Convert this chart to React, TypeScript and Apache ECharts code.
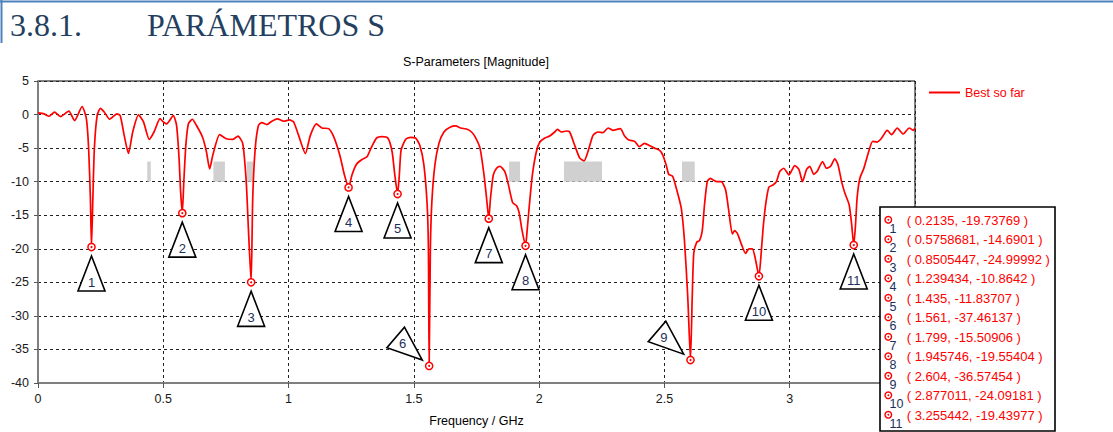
import React, { useEffect, useRef } from 'react';
import * as echarts from 'echarts';

// ---------- data ----------
const freqGHz = [
  0.0, 0.024, 0.044, 0.066, 0.09, 0.123, 0.146, 0.176, 0.193, 0.202, 0.209, 0.2135, 0.219, 0.225, 0.236,
  0.249, 0.265, 0.286, 0.315, 0.328, 0.344, 0.361, 0.378, 0.401, 0.421, 0.444, 0.463, 0.487, 0.5, 0.513,
  0.54, 0.553, 0.563, 0.569, 0.5758681, 0.582, 0.59, 0.6, 0.616, 0.632, 0.656, 0.672, 0.685, 0.698, 0.725,
  0.751, 0.778, 0.798, 0.817, 0.831, 0.84, 0.8505447, 0.857, 0.867, 0.88, 0.893, 0.913, 0.933, 0.956, 0.98,
  1.004, 1.02, 1.04, 1.067, 1.087, 1.111, 1.133, 1.16, 1.18, 1.204, 1.223, 1.239434, 1.253, 1.271, 1.293,
  1.313, 1.329, 1.351, 1.373, 1.396, 1.413, 1.424, 1.435, 1.442, 1.449, 1.467, 1.487, 1.507, 1.524, 1.54,
  1.553, 1.558, 1.561, 1.566, 1.572, 1.584, 1.6, 1.62, 1.644, 1.667, 1.687, 1.713, 1.73, 1.744, 1.764,
  1.78, 1.79, 1.799, 1.806, 1.817, 1.83, 1.843, 1.863, 1.877, 1.894, 1.91, 1.92, 1.932, 1.945746, 1.952,
  1.96, 1.973, 1.989, 2.003, 2.023, 2.042, 2.062, 2.073, 2.089, 2.109, 2.122, 2.142, 2.162, 2.179, 2.195,
  2.215, 2.235, 2.255, 2.275, 2.294, 2.324, 2.341, 2.358, 2.381, 2.4, 2.42, 2.44, 2.46, 2.48, 2.493,
  2.507, 2.517, 2.533, 2.549, 2.567, 2.58, 2.593, 2.604, 2.611, 2.617, 2.629, 2.64, 2.651, 2.66, 2.671,
  2.683, 2.693, 2.709, 2.727, 2.744, 2.757, 2.771, 2.78, 2.791, 2.807, 2.824, 2.837, 2.851, 2.864, 2.877011,
  2.884, 2.893, 2.904, 2.917, 2.933, 2.947, 2.96, 2.976, 2.997, 3.02, 3.037, 3.051, 3.067, 3.08, 3.096,
  3.109, 3.131, 3.147, 3.163, 3.18, 3.193, 3.207, 3.22, 3.237, 3.247, 3.255442, 3.262, 3.269, 3.28, 3.296,
  3.313, 3.331, 3.349, 3.367, 3.389, 3.407, 3.429, 3.453, 3.477, 3.493, 3.5,
];
const magnitudeDb = [
  0.25, 0.1, -0.25, 0.35, -0.3, 0.5, -0.9, 1.2, -0.6, -5, -12.4, -19.73769, -12.4, -5, -0.15,
  0.93, 0.35, -0.7, 0.1, -0.15, -3.1, -5.8, -2.6, -0.05, -1.1, -3.7, -2.6, -0.6, -1.1, -1.4,
  -0.15, -1.6, -6.5, -11.4, -14.6901, -10, -4.6, -1.4, -0.7, -1.6, -3.3, -5.5, -8.1, -6, -3,
  -3.6, -3.7, -3.2, -4.3, -10, -17.3, -24.99992, -12.4, -5, -1.6, -1.2, -1.5, -1.0, -0.65, -1.0,
  -0.8, -1.1, -3.1, -5.8, -3.1, -1.4, -2.0, -2.1, -3.3, -6, -9, -10.8642, -9, -7.4, -6.7,
  -6.3, -5, -3.5, -3.3, -3.5, -5.5, -9, -11.83707, -9, -5.3, -3.7, -3.4, -3.5, -4.6, -7.5,
  -13.4, -19.8, -37.46137, -19.8, -12.9, -7.5, -4.3, -2.6, -1.9, -1.7, -2.0, -2.2, -2.6, -3.3, -5,
  -9, -12.4, -15.50906, -12.4, -9, -8, -7.7, -8.5, -10.4, -13.1, -13.6, -14.6, -17.3, -19.55404, -17.3,
  -13.9, -9, -5.5, -4.1, -3.5, -3.2, -2.6, -2.2, -2.6, -2.45, -2.6, -4.6, -6.5, -6.9, -5.5,
  -3.1, -2.6, -2.7, -2.0, -2.35, -2.1, -3.2, -3.8, -4.0, -4.8, -4.3, -4.6, -5, -5.3, -6,
  -7.5, -8.9, -9.2, -11.2, -13.9, -18.8, -27.1, -36.57454, -27.1, -20.7, -19, -18.8, -17.3, -13.4, -10,
  -9.5, -9.7, -10, -10, -11.2, -14.4, -17.8, -17.3, -17.7, -19.3, -20.7, -20, -20, -21.7, -24.09181,
  -21.7, -17.3, -13.4, -10.8, -10.5, -10, -8.5, -8, -9, -7.6, -8.2, -10, -8.2, -7.7, -8.9,
  -8.5, -7, -8, -7.7, -6.6, -7.5, -10, -11.7, -13.4, -16.3, -19.43977, -16.8, -12.4, -9.5, -8,
  -5.8, -4, -4.1, -3.5, -2.35, -3, -2, -2.9, -2, -2.35, -2,
];

const markerFreq = [0.2135, 0.5758681, 0.8505447, 1.239434, 1.435, 1.561, 1.799, 1.945746, 2.604, 2.877011, 3.255442];
const markerMag = [-19.73769, -14.6901, -24.99992, -10.8642, -11.83707, -37.46137, -15.50906, -19.55404, -36.57454, -24.09181, -19.43977];
const markerLabels = ['1', '2', '3', '4', '5', '6', '7', '8', '9', '10', '11'];

const bandStart = [0.436, 0.7, 0.833, 1.88, 2.099, 2.57];
const bandEnd = [0.45, 0.746, 0.859, 1.924, 2.251, 2.621];
const bandTop = -7;
const bandBottom = -10;

const seriesName = 'Best so far';
const chartTitle = 'S-Parameters [Magnitude]';
const xAxisName = 'Frequency / GHz';
const headingNumber = '3.8.1.';
const headingText = 'PARÁMETROS S';

// ---------- component ----------
export default function App() {
  const ref = useRef<HTMLDivElement>(null);

  useEffect(() => {
    if (!ref.current) return;
    const chart = echarts.init(ref.current, null, { renderer: 'svg' });

    const FONT = 'Liberation Sans';
    const RED = '#ff0000';
    const NAVY = '#1c2f5a';
    const ROTATED = [5, 8];
    const ZT = 200;

    const rowY0 = 220.3;
    const rowStep = 19.5;

    const graphics: any[] = [
      { type: 'line', shape: { x1: 0, y1: 1.5, x2: 1113, y2: 1.5 }, style: { stroke: '#4f81bd', lineWidth: 2 }, z: ZT },
      { type: 'line', shape: { x1: 1.5, y1: 0, x2: 1.5, y2: 43 }, style: { stroke: '#4f81bd', lineWidth: 2 }, z: ZT },
      {
        type: 'text',
        x: 10,
        y: 25,
        z: ZT,
        style: { text: headingNumber, fill: '#243f60', fontFamily: 'Liberation Serif', fontSize: 32, verticalAlign: 'middle' },
      },
      {
        type: 'text',
        x: 147,
        y: 25,
        z: ZT,
        style: { text: headingText, fill: '#243f60', fontFamily: 'Liberation Serif', fontSize: 32, verticalAlign: 'middle' },
      },
      {
        type: 'rect',
        z: ZT,
        shape: { x: 880, y: 207, width: 175, height: 224 },
        style: { fill: '#ffffff', stroke: '#000', lineWidth: 1.6 },
      },
    ];
    markerFreq.forEach((f, i) => {
      const y = rowY0 + i * rowStep;
      graphics.push(
        { type: 'circle', z: ZT + 1, shape: { cx: 888.3, cy: y - 0.5, r: 3.3 }, style: { fill: '#fff', stroke: RED, lineWidth: 1.4 } },
        { type: 'circle', z: ZT + 2, shape: { cx: 888.3, cy: y - 0.5, r: 0.9 }, style: { fill: RED } },
        {
          type: 'text',
          z: ZT + 1,
          x: 889.5,
          y: y + 8.3,
          style: { text: markerLabels[i], fill: NAVY, fontFamily: FONT, fontSize: 12.5, align: 'left', verticalAlign: 'middle' },
        },
        {
          type: 'text',
          z: ZT + 1,
          x: 906.7,
          y: y,
          style: { text: `( ${f}, ${markerMag[i]} )`, fill: RED, fontFamily: FONT, fontSize: 13, align: 'left', verticalAlign: 'middle' },
        },
      );
    });

    const option: any = {
      animation: false,
      textStyle: { fontFamily: FONT },
      title: {
        text: chartTitle,
        left: 403,
        top: 55,
        padding: 0,
        textStyle: { fontFamily: FONT, fontSize: 12.5, fontWeight: 'normal', color: '#000' },
      },
      legend: {
        data: [seriesName],
        left: 929,
        top: 86,
        padding: 0,
        icon: 'rect',
        itemWidth: 31,
        itemHeight: 2,
        textStyle: { color: RED, fontSize: 12.5, fontFamily: FONT },
      },
      grid: {
        left: 38,
        top: 81,
        width: 877,
        height: 306,
        show: true,
        borderColor: '#000',
        borderWidth: 1,
        backgroundColor: 'transparent',
      },
      xAxis: {
        type: 'value',
        min: 0,
        max: 3.5,
        interval: 0.5,
        name: xAxisName,
        nameLocation: 'middle',
        nameGap: 31,
        nameTextStyle: { fontFamily: FONT, fontSize: 12.5, color: '#000' },
        axisLine: { show: true, onZero: false, lineStyle: { color: '#7f7f7f', width: 2 } },
        axisTick: { show: true, length: 5, lineStyle: { color: '#555' } },
        axisLabel: { margin: 9, fontSize: 12.5, fontFamily: FONT, color: '#1a1a1a', showMaxLabel: false },
        splitLine: { show: true, lineStyle: { color: '#222', type: [3, 3], width: 1 } },
      },
      yAxis: {
        type: 'value',
        min: -40,
        max: 5,
        interval: 5,
        axisLine: { show: true, onZero: false, lineStyle: { color: '#7f7f7f', width: 2 } },
        axisTick: { show: true, length: 4, lineStyle: { color: '#555' } },
        axisLabel: { margin: 9, fontSize: 12.5, fontFamily: FONT, color: '#1a1a1a' },
        splitLine: { show: true, lineStyle: { color: '#222', type: [3, 3], width: 1 } },
      },
      series: [
        {
          name: seriesName,
          type: 'line',
          data: freqGHz.map((f, i) => [f, magnitudeDb[i]]),
          showSymbol: false,
          symbol: 'none',
          smooth: 0.2,
          lineStyle: { color: RED, width: 1.7 },
          itemStyle: { color: RED },
          z: 3,
          markArea: {
            silent: true,
            itemStyle: { color: '#d0d0d0' },
            data: bandStart.map((s, i) => [
              { xAxis: s, yAxis: bandTop },
              { xAxis: bandEnd[i], yAxis: bandBottom },
            ]),
          },
        },
        {
          name: 'markers',
          type: 'custom',
          clip: false,
          z: 5,
          data: markerFreq.map((f, i) => [f, markerMag[i]]),
          renderItem: (params: any, api: any) => {
            const i = params.dataIndex;
            const [px, py] = api.coord([api.value(0), api.value(1)]);
            const rot = ROTATED.includes(i) ? (130.5 * Math.PI) / 180 : 0;
            const c = Math.cos(rot);
            const s = Math.sin(rot);
            const tr = (x: number, y: number) => [px + x * c - y * s, py + x * s + y * c];
            const pts = [tr(0, 9), tr(-13.5, 44), tr(13.5, 44)];
            const lp = tr(0, 35);
            return {
              type: 'group',
              children: [
                { type: 'polygon', shape: { points: pts }, style: { fill: '#fff', stroke: '#000', lineWidth: 1.6 } },
                {
                  type: 'text',
                  x: lp[0],
                  y: lp[1],
                  style: { text: markerLabels[i], fill: NAVY, fontFamily: FONT, fontSize: 13, align: 'center', verticalAlign: 'middle' },
                },
                { type: 'circle', shape: { cx: px, cy: py, r: 3.6 }, style: { fill: '#fff', stroke: RED, lineWidth: 1.5 } },
                { type: 'circle', shape: { cx: px, cy: py, r: 1 }, style: { fill: RED } },
              ],
            };
          },
        },
      ],
      graphic: { elements: graphics },
    };

    chart.setOption(option);
    return () => chart.dispose();
  }, []);

  return <div ref={ref} style={{ position: 'absolute', left: 0, top: 0, width: 1113, height: 432 }} />;
}
